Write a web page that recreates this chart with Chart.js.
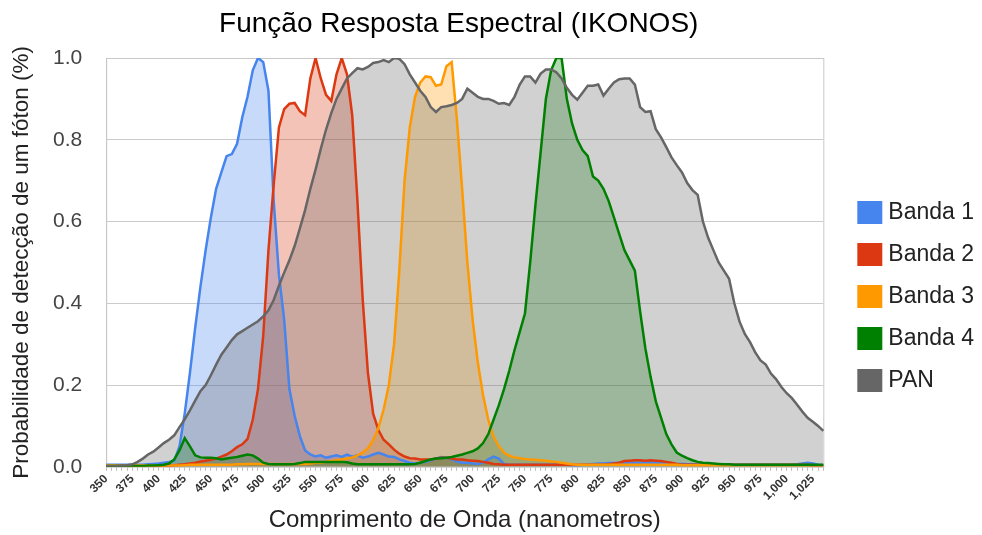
<!DOCTYPE html>
<html>
<head>
<meta charset="utf-8">
<title>Função Resposta Espectral (IKONOS)</title>
<script src="https://cdn.jsdelivr.net/npm/chart.js@4.4.1/dist/chart.umd.min.js"></script>
<style>
  body { margin: 0; background: #fff; }
  #wrap { width: 982px; height: 535px; position: relative; }
</style>
</head>
<body>
<div id="wrap"><canvas id="spectralChart"></canvas></div>
<script>
const chartTitle = 'Função Resposta Espectral (IKONOS)';

// wavelength (nm), one category every 5 nm
const wavelengths = [
  350, 355, 360, 365, 370, 375, 380, 385, 390, 395,
  400, 405, 410, 415, 420, 425, 430, 435, 440, 445,
  450, 455, 460, 465, 470, 475, 480, 485, 490, 495,
  500, 505, 510, 515, 520, 525, 530, 535, 540, 545,
  550, 555, 560, 565, 570, 575, 580, 585, 590, 595,
  600, 605, 610, 615, 620, 625, 630, 635, 640, 645,
  650, 655, 660, 665, 670, 675, 680, 685, 690, 695,
  700, 705, 710, 715, 720, 725, 730, 735, 740, 745,
  750, 755, 760, 765, 770, 775, 780, 785, 790, 795,
  800, 805, 810, 815, 820, 825, 830, 835, 840, 845,
  850, 855, 860, 865, 870, 875, 880, 885, 890, 895,
  900, 905, 910, 915, 920, 925, 930, 935, 940, 945,
  950, 955, 960, 965, 970, 975, 980, 985, 990, 995,
  1000, 1005, 1010, 1015, 1020, 1025, 1030, 1035
];

// labels shown every 25 nm
const xTickLabels = [
  '350', '375', '400', '425', '450', '475', '500', '525', '550', '575',
  '600', '625', '650', '675', '700', '725', '750', '775', '800', '825',
  '850', '875', '900', '925', '950', '975', '1,000', '1,025'
];

const banda1 = [
  0.005, 0.005, 0.005, 0.005, 0.005, 0.005, 0.005, 0.005, 0.006, 0.007,
  0.008, 0.01, 0.012, 0.015, 0.05, 0.13, 0.23, 0.34, 0.44, 0.53,
  0.61, 0.68, 0.72, 0.76, 0.765, 0.79, 0.855, 0.905, 0.97, 1.0,
  0.99, 0.92, 0.65, 0.47, 0.36, 0.19, 0.125, 0.075, 0.04, 0.03,
  0.025, 0.028, 0.022, 0.025, 0.028, 0.024, 0.03, 0.025, 0.028, 0.022,
  0.025, 0.03, 0.034, 0.03, 0.025, 0.024, 0.018, 0.014, 0.01, 0.008,
  0.01, 0.012, 0.016, 0.02, 0.024, 0.022, 0.018, 0.013, 0.01, 0.01,
  0.008, 0.007, 0.01, 0.018, 0.025, 0.02, 0.007, 0.005, 0.005, 0.005,
  0.005, 0.005, 0.005, 0.005, 0.005, 0.005, 0.005, 0.005, 0.005, 0.004,
  0.004, 0.005, 0.006, 0.007, 0.008, 0.008, 0.009, 0.009, 0.01, 0.01,
  0.01, 0.01, 0.01, 0.01, 0.01, 0.009, 0.009, 0.008, 0.008, 0.007,
  0.007, 0.006, 0.006, 0.005, 0.005, 0.005, 0.005, 0.005, 0.005, 0.005,
  0.005, 0.005, 0.005, 0.005, 0.005, 0.005, 0.005, 0.005, 0.005, 0.005,
  0.005, 0.005, 0.006, 0.008, 0.01, 0.008, 0.005, 0.004
];

const banda2 = [
  0.002, 0.002, 0.002, 0.002, 0.002, 0.002, 0.002, 0.002, 0.002, 0.002,
  0.002, 0.003, 0.003, 0.004, 0.005, 0.006, 0.008, 0.01, 0.013, 0.015,
  0.017, 0.02, 0.025, 0.03, 0.038, 0.048, 0.055, 0.068, 0.115, 0.19,
  0.32, 0.53, 0.69, 0.83, 0.875, 0.888, 0.89, 0.87, 0.86, 0.95,
  1.0, 0.95, 0.91, 0.895, 0.96, 1.0, 0.96, 0.86, 0.65, 0.41,
  0.23, 0.13, 0.09, 0.066, 0.055, 0.042, 0.032, 0.025, 0.021, 0.02,
  0.018, 0.018, 0.018, 0.02, 0.022, 0.022, 0.02, 0.018, 0.018, 0.016,
  0.015, 0.014, 0.012, 0.01, 0.007, 0.006, 0.005, 0.005, 0.005, 0.005,
  0.005, 0.005, 0.005, 0.005, 0.005, 0.005, 0.005, 0.005, 0.005, 0.005,
  0.005, 0.005, 0.005, 0.005, 0.005, 0.005, 0.006, 0.008, 0.01, 0.014,
  0.015, 0.016, 0.016, 0.015, 0.016, 0.015, 0.014, 0.012, 0.01, 0.007,
  0.005, 0.005, 0.005, 0.005, 0.005, 0.005, 0.005, 0.005, 0.005, 0.005,
  0.005, 0.005, 0.005, 0.005, 0.005, 0.005, 0.005, 0.005, 0.005, 0.005,
  0.005, 0.005, 0.005, 0.005, 0.005, 0.004, 0.004, 0.004
];

const banda3 = [
  0.003, 0.003, 0.003, 0.003, 0.003, 0.003, 0.003, 0.003, 0.003, 0.003,
  0.003, 0.003, 0.003, 0.003, 0.003, 0.004, 0.005, 0.005, 0.005, 0.005,
  0.005, 0.005, 0.005, 0.005, 0.005, 0.006, 0.006, 0.007, 0.007, 0.007,
  0.007, 0.007, 0.007, 0.007, 0.007, 0.007, 0.007, 0.007, 0.007, 0.008,
  0.01, 0.01, 0.012, 0.014, 0.016, 0.018, 0.02, 0.023, 0.028, 0.035,
  0.045, 0.065, 0.095, 0.14, 0.2, 0.3, 0.48, 0.7, 0.83, 0.905,
  0.94, 0.955, 0.953, 0.932, 0.935, 0.98, 0.99, 0.85, 0.68, 0.5,
  0.36, 0.255, 0.175, 0.115, 0.074, 0.05, 0.035, 0.027, 0.023, 0.021,
  0.019, 0.018, 0.017, 0.016, 0.015, 0.013, 0.012, 0.01, 0.008, 0.006,
  0.005, 0.005, 0.005, 0.005, 0.005, 0.005, 0.005, 0.005, 0.005, 0.005,
  0.005, 0.005, 0.005, 0.005, 0.005, 0.005, 0.005, 0.005, 0.005, 0.005,
  0.004, 0.004, 0.004, 0.004, 0.004, 0.004, 0.004, 0.004, 0.004, 0.004,
  0.004, 0.004, 0.004, 0.004, 0.004, 0.004, 0.004, 0.004, 0.004, 0.004,
  0.004, 0.004, 0.004, 0.004, 0.004, 0.004, 0.004, 0.004
];

const banda4 = [
  0.002, 0.002, 0.002, 0.002, 0.002, 0.002, 0.002, 0.002, 0.003, 0.003,
  0.004, 0.005, 0.008, 0.018, 0.04, 0.07, 0.05, 0.028, 0.023, 0.022,
  0.022, 0.021, 0.018, 0.02, 0.022, 0.024, 0.027, 0.03, 0.028, 0.02,
  0.01, 0.007, 0.006, 0.006, 0.006, 0.006, 0.007, 0.009, 0.012, 0.012,
  0.012, 0.012, 0.012, 0.012, 0.012, 0.012, 0.011, 0.008, 0.006, 0.006,
  0.006, 0.006, 0.006, 0.006, 0.006, 0.006, 0.006, 0.006, 0.006, 0.007,
  0.01, 0.014, 0.018, 0.02, 0.021, 0.022, 0.024, 0.027, 0.03, 0.034,
  0.038, 0.045, 0.058, 0.08, 0.115, 0.15, 0.19, 0.235, 0.285, 0.33,
  0.375, 0.5, 0.64, 0.77, 0.9, 0.97, 1.0, 1.0, 0.9, 0.84,
  0.8, 0.775, 0.76, 0.71, 0.7, 0.68, 0.65, 0.61, 0.57, 0.53,
  0.505, 0.48, 0.38, 0.29, 0.22, 0.16, 0.12, 0.08, 0.055, 0.035,
  0.027, 0.021, 0.016, 0.012, 0.01, 0.009, 0.008, 0.007, 0.006, 0.006,
  0.005, 0.005, 0.005, 0.005, 0.005, 0.005, 0.005, 0.005, 0.005, 0.005,
  0.005, 0.005, 0.005, 0.005, 0.005, 0.005, 0.005, 0.005
];

const pan = [
  0.001, 0.001, 0.002, 0.003, 0.004, 0.006, 0.012, 0.02, 0.03, 0.037,
  0.047, 0.058, 0.066, 0.077, 0.097, 0.116, 0.138, 0.162, 0.185, 0.2,
  0.224, 0.25, 0.274, 0.292, 0.31, 0.324, 0.332, 0.34, 0.348, 0.356,
  0.368, 0.383, 0.408, 0.443, 0.475, 0.505, 0.54, 0.583, 0.628, 0.68,
  0.727, 0.778, 0.825, 0.865, 0.9, 0.925, 0.95, 0.963, 0.975, 0.972,
  0.978, 0.988, 0.99, 0.995, 0.99, 1.0, 0.998, 0.985, 0.96, 0.94,
  0.92, 0.905, 0.88, 0.868, 0.88, 0.882, 0.885, 0.89, 0.9, 0.925,
  0.915, 0.905, 0.9, 0.9, 0.895, 0.888, 0.89, 0.885, 0.905, 0.935,
  0.955, 0.955, 0.94, 0.962, 0.972, 0.972, 0.965, 0.95, 0.927, 0.91,
  0.898, 0.915, 0.932, 0.932, 0.935, 0.908, 0.925, 0.94, 0.948, 0.95,
  0.95, 0.935, 0.88, 0.868, 0.87, 0.826, 0.806, 0.782, 0.757, 0.738,
  0.72, 0.694, 0.677, 0.665, 0.6, 0.56, 0.53, 0.5, 0.48, 0.46,
  0.4, 0.355, 0.325, 0.305, 0.28, 0.26, 0.25, 0.228, 0.214, 0.195,
  0.18, 0.168, 0.152, 0.135, 0.12, 0.11, 0.1, 0.088
];

const seriesNames = ['Banda 1', 'Banda 2', 'Banda 3', 'Banda 4', 'PAN'];
const seriesColors = ['#4684ee', '#dc3912', '#ff9900', '#008000', '#666666'];
const seriesFills = [
  'rgba(70, 132, 238, 0.3)',
  'rgba(220, 57, 18, 0.3)',
  'rgba(255, 153, 0, 0.3)',
  'rgba(0, 128, 0, 0.3)',
  'rgba(102, 102, 102, 0.3)'
];
const seriesValues = [banda1, banda2, banda3, banda4, pan];

Chart.defaults.font.family = '"Liberation Sans", Arial, sans-serif';
Chart.defaults.color = '#222';

// title centred over the plot area, like the original
const plotTitle = {
  id: 'plotTitle',
  afterDraw(chart) {
    const { ctx, chartArea } = chart;
    ctx.save();
    ctx.font = '28px "Liberation Sans", Arial, sans-serif';
    ctx.fillStyle = '#000';
    ctx.textAlign = 'center';
    ctx.textBaseline = 'middle';
    ctx.fillText(chartTitle, (chartArea.left + chartArea.right) / 2 - 6, 24);
    ctx.restore();
  }
};

// thin frame round the plot area
const plotFrame = {
  id: 'plotFrame',
  beforeDatasetsDraw(chart) {
    const { ctx, chartArea } = chart;
    ctx.save();
    ctx.strokeStyle = '#c8c8c8';
    ctx.lineWidth = 1;
    ctx.strokeRect(chartArea.left + 0.5, chartArea.top + 0.5,
      chartArea.right - chartArea.left, chartArea.bottom - chartArea.top);
    ctx.restore();
  }
};

// leave a gap between plot and legend
const legendGap = {
  id: 'legendGap',
  beforeInit(chart) {
    const fit = chart.legend.fit;
    chart.legend.fit = function () {
      fit.call(this);
      this.width += 18.5;
    };
  },
  afterLayout(chart) {
    chart.legend.left += 20.5;
  }
};

const datasets = seriesNames.map((name, i) => ({
  label: name,
  data: seriesValues[i],
  borderColor: seriesColors[i],
  backgroundColor: seriesFills[i],
  borderWidth: 2.5,
  fill: 'origin',
  tension: 0,
  pointRadius: 0,
  pointHoverRadius: 0,
  order: seriesNames.length - i
}));

const ctx = document.getElementById('spectralChart').getContext('2d');
const spectralChart = new Chart(ctx, {
  type: 'line',
  data: { labels: wavelengths, datasets: datasets },
  plugins: [plotTitle, plotFrame, legendGap],
  options: {
    responsive: true,
    maintainAspectRatio: false,
    animation: false,
    layout: { padding: { top: 58, left: 4, right: 0, bottom: 0 } },
    scales: {
      x: {
        type: 'category',
        offset: false,
        grid: { drawOnChartArea: false, drawTicks: true, tickLength: 4, color: '#bbbbbb' },
        border: { display: true, color: '#c8c8c8' },
        ticks: {
          autoSkip: false,
          minRotation: 45,
          maxRotation: 45,
          padding: 1,
          color: '#333',
          font: { size: 12, weight: 'bold' },
          callback: (value, index) => (index % 5 === 0 ? xTickLabels[index / 5] : '')
        },
        title: {
          display: true,
          text: 'Comprimento de Onda (nanometros)',
          color: '#222',
          font: { size: 24 },
          padding: { top: 2, bottom: 0 }
        }
      },
      y: {
        min: 0,
        max: 1,
        grid: { color: '#cccccc', drawTicks: false },
        border: { display: true, color: '#c8c8c8' },
        ticks: {
          stepSize: 0.2,
          padding: 24,
          color: '#444',
          font: { size: 21 },
          callback: (value) => Number(value).toFixed(1)
        },
        title: {
          display: true,
          text: 'Probabilidade de detecção de um fóton (%)',
          color: '#222',
          font: { size: 22.5 },
          padding: { top: 4, bottom: -6 }
        }
      }
    },
    plugins: {
      title: { display: false },
      tooltip: { enabled: false },
      filler: { drawTime: 'beforeDatasetsDraw' },
      legend: {
        position: 'right',
        align: 'center',
        labels: {
          boxWidth: 14,
          boxHeight: 12,
          padding: 19,
          color: '#222',
          font: { size: 23 },
          sort: (a, b) => a.datasetIndex - b.datasetIndex,
          generateLabels: (chart) =>
            Chart.defaults.plugins.legend.labels.generateLabels(chart).map((item) => ({
              ...item,
              fillStyle: seriesColors[item.datasetIndex],
              strokeStyle: seriesColors[item.datasetIndex],
              lineWidth: 11
            }))
        }
      }
    }
  }
});
</script>
</body>
</html>
